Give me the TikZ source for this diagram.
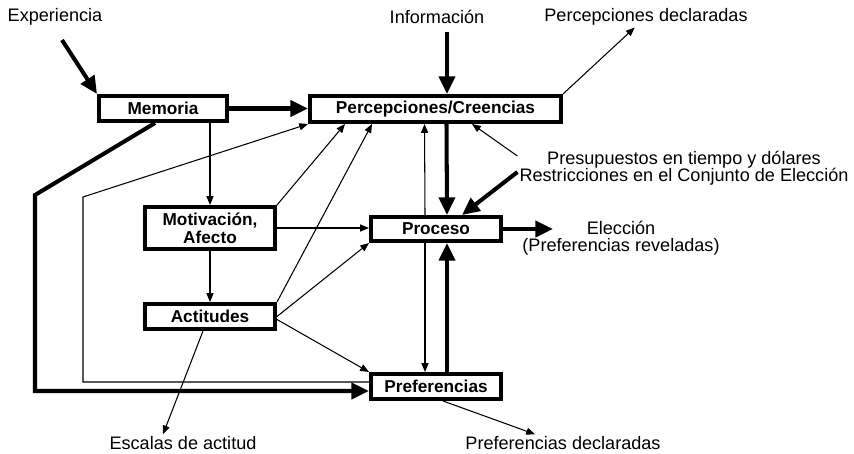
\documentclass[tikz,border=0pt]{standalone}
\usepackage{fontspec}
\setmainfont{Liberation Sans}
\usetikzlibrary{arrows.meta,positioning}

\begin{document}
\begin{tikzpicture}[x=0.02cm, y=-0.02cm,
    box/.style={draw, line width=2pt, font=\fontsize{9.8}{10.4}\selectfont\bfseries, inner sep=0pt, align=center, minimum width=2.61cm, minimum height=0.51cm},
    lbl/.style={font={\fontsize{10.3}{9.6}\selectfont\lineskiplimit -10pt\relax}, inner sep=1pt, align=center},
    arrow/.style={-{Triangle[length=5pt,width=4pt]}, line width=0.6pt},
    bigarrow/.style={-{Triangle[length=10pt,width=9pt]}, line width=2.3pt}]

    \useasboundingbox (0,0) rectangle (854,453);

    \node[box, minimum width=2.57cm] (mem) at (163,108.5) {Memoria};
    \node[box, minimum width=5.03cm, minimum height=0.53cm] (perc) at (435.5,109) {Percepciones/Creencias};
    \node[box, minimum height=0.85cm] (motiv) at (210,228) {Motivación,\\Afecto};
    \node[box, below=1.02cm of motiv] (actit) {Actitudes};
    \node[box, minimum height=0.49cm] (proc) at (436,229) {Proceso};
    \node[box, below=2.58cm of proc] (pref) {Preferencias};

    \node[lbl] (exp) at (55,17) {Experiencia};
    \node[lbl] (info) at (437,17) {Información};
    \node[lbl] (percdecl) at (646,17) {Percepciones declaradas};
    \node[lbl] (presup) at (684,168) {Presupuestos en tiempo y dólares\\Restricciones en el Conjunto de Elección};
    \node[lbl] (elec) at (621,238) {Elección\\(Preferencias reveladas)};
    \node[lbl] (escalas) at (183,443) {Escalas de actitud};
    \node[lbl] (prefdecl) at (563,443) {Preferencias declaradas};

    \coordinate (expin) at (62,40);
    \coordinate (infoin) at (447,32);
    \coordinate (elecout) at (553,229);

    \draw[bigarrow] (expin) -- (mem.north west);
    \draw[bigarrow] (infoin) -- (infoin |- perc.north);
    \draw[bigarrow] (mem.east) -- (mem.east -| perc.west);
    \draw[bigarrow] ([xshift=0.22cm]perc.south) -- ([xshift=0.22cm]proc.north);
    \draw[bigarrow] ([xshift=0.22cm]pref.north) -- ([xshift=0.22cm]proc.south);
    \draw[bigarrow] (proc.east) -- (elecout);
    \draw[bigarrow] ([yshift=-0.08cm]presup.west) -- ([xshift=0.52cm]proc.north);
    \draw[bigarrow] ([xshift=-0.16cm]mem.south) -- (35,195) |- ([yshift=-0.09cm]pref.west);

    \draw[arrow] ([yshift=0.24cm]presup.west) -- ([xshift=0.73cm]perc.south);
    \draw[arrow] ([yshift=0.09cm]pref.west) -| (83,197) -- (perc.south west);
    \draw[arrow] ([xshift=-0.22cm]proc.north) -- ([xshift=-0.22cm]perc.south);
    \draw[arrow] ([xshift=-0.22cm]proc.south) -- ([xshift=-0.22cm]pref.north);
    \draw[arrow] (mem.south -| motiv.north) -- (motiv.north);
    \draw[arrow] (motiv) -- (actit);
    \draw[arrow] (motiv.east) -- (motiv.east -| proc.west);
    \draw[arrow] (motiv.north east) -- ([xshift=-1.81cm]perc.south);
    \draw[arrow] (actit.north east) -- ([xshift=-1.27cm]perc.south);
    \draw[arrow] (actit.east) -- (proc.south west);
    \draw[arrow] ([yshift=-0.06cm]actit.east) -- (pref.north west);
    \draw[arrow] ([xshift=-0.14cm]actit.south) -- ([xshift=-0.4cm]escalas.north);
    \draw[arrow] ([xshift=0.14cm]pref.south) -- ([xshift=-0.56cm]prefdecl.north);
    \draw[arrow] (perc.north east) -- (percdecl);
\end{tikzpicture}
\end{document}
